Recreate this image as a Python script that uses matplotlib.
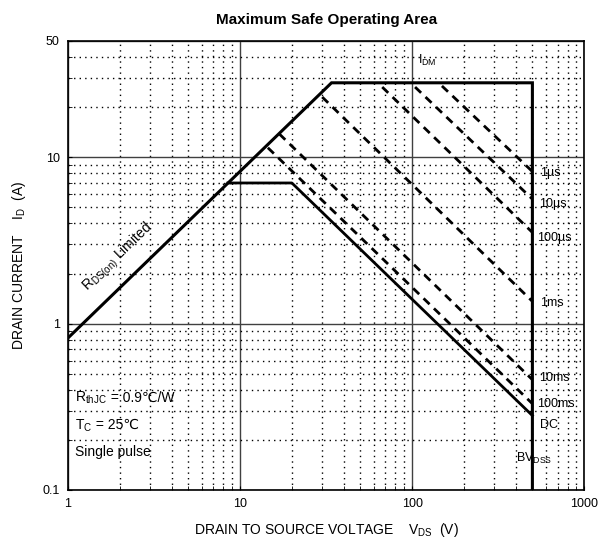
import numpy as np
import matplotlib
matplotlib.use("Agg")
import matplotlib.pyplot as plt
from matplotlib.ticker import FixedLocator, NullFormatter

plt.rcParams['font.family'] = ['Liberation Sans', 'DejaVu Sans']
plt.rcParams['mathtext.fontset'] = 'custom'
plt.rcParams['mathtext.rm'] = 'Liberation Sans'
plt.rcParams['mathtext.it'] = 'Liberation Sans'

# outer SOA boundary: R_DS(on) limit -> I_DM -> BV_DSS
outer_v = [1, 34, 500, 500]
outer_i = [0.82, 28, 28, 0.1]

# DC curve
dc_v = [8.5, 20, 500]
dc_i = [7.0, 7.0, 0.28]

# single pulse lines (start point, end point at BV_DSS)
pulse_names = ['1µs', '10µs', '100µs', '1ms', '10ms', '100ms']
pulse_v = [[149, 500], [104, 500], [67, 500], [30, 500], [16.9, 500], [14.5, 500]]
pulse_i = [[26.8, 8.2], [26.4, 5.6], [26.4, 3.53], [23, 1.36], [13.8, 0.46], [11.4, 0.33]]

# right-hand curve labels (y position in A)
label_names = ['1µs', '10µs', '100µs', '1ms', '10ms', '100ms', 'DC']
label_y = [8.0, 5.2, 3.25, 1.33, 0.47, 0.33, 0.245]
label_x = [555, 545, 530, 555, 550, 530, 555]

fig = plt.figure(figsize=(6.13, 5.49), dpi=100)
ax = fig.add_axes([0.111, 0.1075, 0.842, 0.818])

ax.set_xscale('log')
ax.set_yscale('log')
ax.set_xlim(1, 1000)
ax.set_ylim(0.1, 50)

# grid
ax.xaxis.set_major_locator(FixedLocator([1, 10, 100, 1000]))
ax.yaxis.set_major_locator(FixedLocator([0.1, 1, 10, 50]))
ax.set_xticklabels(['1', '10', '100', '1000'])
ax.set_yticklabels(['0.1', '1', '10', '50'])
ax.xaxis.set_minor_formatter(NullFormatter())
ax.yaxis.set_minor_formatter(NullFormatter())
ax.grid(True, which='major', color='#404040', lw=1.0, ls='-')
ax.grid(True, which='minor', color='black', lw=1.0, ls=(0, (1, 3)))
ax.tick_params(which='both', direction='in', length=3, labelsize=9)
ax.tick_params(which='major', pad=6)
for s in ax.spines.values():
    s.set_linewidth(1.2)

ax.plot(outer_v, outer_i, color='black', lw=2.2, solid_joinstyle='miter')
ax.plot(dc_v, dc_i, color='black', lw=2.0)
for v, i in zip(pulse_v, pulse_i):
    ax.plot(v, i, color='black', lw=2.0, ls=(0, (3, 2.2)))

for name, x, y in zip(label_names, label_x, label_y):
    ax.text(x, y, name, fontsize=9, ha='left', va='center')

ax.text(108, 38, r'I$_\mathregular{DM}$', fontsize=9, ha='left', va='center')
ax.text(400, 0.155, r'BV$_\mathregular{DSS}$', fontsize=9, ha='left', va='center')
ax.text(1.95, 2.5, r'R$_\mathregular{DS(on)}$ Limited', fontsize=10,
        rotation=44, ha='center', va='center')

# conditions text; the ℃ part is plain text placed right after the subscript part
t1 = ax.text(1.1, 0.34, r'R$_\mathregular{thJC}$', fontsize=10, va='baseline')
ax.annotate(' = 0.9℃/W', xy=(1, 0.34), xycoords=(t1, 'data'), fontsize=10, va='baseline')
t2 = ax.text(1.1, 0.232, r'T$_\mathregular{C}$', fontsize=10, va='baseline')
ax.annotate(' = 25℃', xy=(1, 0.232), xycoords=(t2, 'data'), fontsize=10, va='baseline')
ax.text(1.1, 0.16, 'Single pulse', fontsize=10, va='baseline')

ax.set_title('Maximum Safe Operating Area', fontsize=11, fontweight='bold', pad=12)
ax.set_xlabel(r'DRAIN TO SOURCE VOLTAGE    V$_\mathregular{DS}$  (V)', fontsize=10, labelpad=8)
ax.set_ylabel(r'DRAIN CURRENT    I$_\mathregular{D}$  (A)', fontsize=10, labelpad=10)

fig.savefig('out.png', dpi=100)
